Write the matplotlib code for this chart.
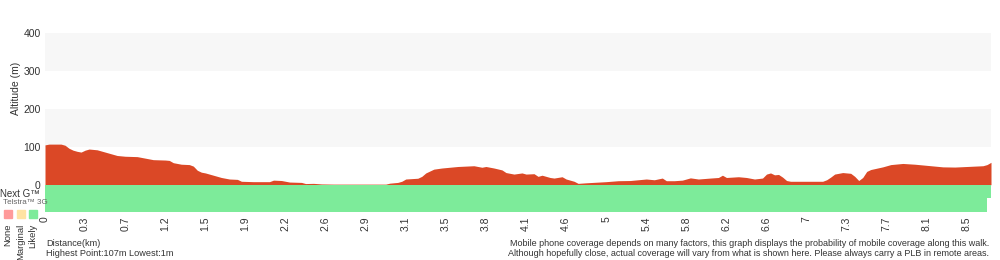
import matplotlib

matplotlib.use("Agg")
import matplotlib.pyplot as plt

plt.rcParams["font.family"] = ["Liberation Sans", "DejaVu Sans"]

# profile: sample number along the walk -> altitude (m)
sample_idx = [
    0, 1, 4, 5, 6, 7, 8, 9, 10, 11, 13, 14, 16, 18, 20, 23, 25, 27, 30, 31,
    32, 34, 36, 37, 38, 39, 40, 42, 44, 46, 48, 49, 52, 56, 57, 59, 61, 64, 65, 67,
    69, 72, 85, 86, 88, 89, 90, 93, 94, 95, 97, 99, 101, 103, 107, 109, 110, 112, 114, 115,
    117, 119, 120, 122, 123, 124, 126, 127, 129, 130, 132, 133, 135, 140, 143, 146, 150, 152, 154, 155,
    157, 159, 160, 161, 163, 166, 168, 169, 170, 173, 175, 177, 179, 180, 181, 182, 183, 184, 185, 186,
    194, 195, 196, 197, 199, 201, 202, 203, 204, 205, 206, 209, 211, 214, 217, 220, 224, 227, 230, 234,
    235, 236,
]
altitude = [
    105, 107, 107, 104, 96, 91, 88, 86, 91, 94, 92, 89, 83, 77, 75, 74, 70, 66, 65, 64,
    58, 54, 53, 49, 38, 33, 31, 25, 19, 15, 14, 9, 8, 8, 12, 11, 7, 6, 3, 3.5,
    2, 1.5, 1.5, 4, 6, 9, 15, 17, 22, 31, 41, 44, 46, 48, 50, 46, 48, 44, 39, 32,
    28, 31, 28, 29, 22, 25, 19, 17.5, 21, 15, 9, 3.5, 5, 8, 10.5, 11, 15, 13, 17.5, 10.5,
    10.5, 12, 15, 18, 15, 17.5, 19, 25, 19, 21, 19, 15, 17.5, 28, 31, 26, 27, 20, 11, 9,
    9, 13, 20, 28, 32, 30, 22, 11, 19, 35, 40, 47, 53, 56, 54, 51, 47, 46.5, 48, 50,
    53, 59,
]

tick_idx = list(range(0, 231, 10))
tick_labels = [
    "0", "0.3", "0.7", "1.2", "1.5", "1.9", "2.2", "2.6", "2.9", "3.1", "3.5", "3.8",
    "4.1", "4.6", "5", "5.4", "5.8", "6.2", "6.6", "7", "7.3", "7.7", "8.1", "8.5",
]

# coverage segments (start sample, end sample, level)
nextg_segments = [(0, 236, "Likely")]
g3_segments = [(0, 235, "Likely")]

coverage_levels = ["None", "Marginal", "Likely"]
coverage_colors = {"None": "#ff9a9a", "Marginal": "#ffe3a3", "Likely": "#7deb9a"}

RED = "#db4826"
BAND = "#f7f7f7"
TEXT = "#333333"
band_h = 36

fig = plt.figure(figsize=(10, 2.6), dpi=100)
ax = fig.add_axes([0.045, 0.1846, 0.946, 0.6885])

for lo in (100, 300):
    ax.axhspan(lo, lo + 100, color=BAND, lw=0, zorder=0)

ax.fill_between(sample_idx, 0, altitude, color=RED, lw=0, zorder=2)

for start, end, level in nextg_segments:
    ax.fill_between([start, end], -band_h, 0, color=coverage_colors[level], lw=0, zorder=2)
for start, end, level in g3_segments:
    ax.fill_between([start, end], -2 * band_h, -band_h, color=coverage_colors[level], lw=0, zorder=2)

ax.set_xlim(0, sample_idx[-1])
ax.set_ylim(-2 * band_h, 400)
ax.set_yticks([0, 100, 200, 300, 400])
ax.set_xticks(tick_idx)
ax.set_xticklabels(tick_labels, rotation=90)
ax.tick_params(axis="both", length=0, labelsize=7.5, colors=TEXT, pad=3)
for s in ax.spines.values():
    s.set_visible(False)
ax.set_ylabel("Altitude (m)", fontsize=7.5, color=TEXT)
ax.yaxis.set_label_coords(-0.0254, 0.69)

# coverage legend on the left
fig.text(0.0, 1 - 194 / 260, "Next G\u2122", fontsize=7, color=TEXT, va="center")
fig.text(0.003, 1 - 203 / 260, "Telstra\u2122 3G", fontsize=5.8, color="#666666", va="center")
for i, level in enumerate(coverage_levels):
    x0 = (4 + i * 12.5) / 1000
    fig.patches.append(plt.Rectangle((x0, 1 - 218 / 260), 0.008, 8 / 260,
                                     transform=fig.transFigure, color=coverage_colors[level]))
    fig.text(x0 + 0.004, 1 - 224 / 260, level, rotation=90, fontsize=6.8,
             color=TEXT, ha="center", va="top")

fig.text(0.046, 1 - 243 / 260, "Distance(km)", fontsize=6.6, color=TEXT, va="center")
fig.text(0.046, 1 - 253 / 260, "Highest Point:107m Lowest:1m", fontsize=6.6, color=TEXT, va="center")
fig.text(0.989, 1 - 243 / 260,
         "Mobile phone coverage depends on many factors, this graph displays the probability of mobile coverage along this walk.",
         fontsize=6.5, color=TEXT, va="center", ha="right")
fig.text(0.989, 1 - 253 / 260,
         "Although hopefully close, actual coverage will vary from what is shown here. Please always carry a PLB in remote areas.",
         fontsize=6.5, color=TEXT, va="center", ha="right")

fig.savefig("out.png", dpi=100)
